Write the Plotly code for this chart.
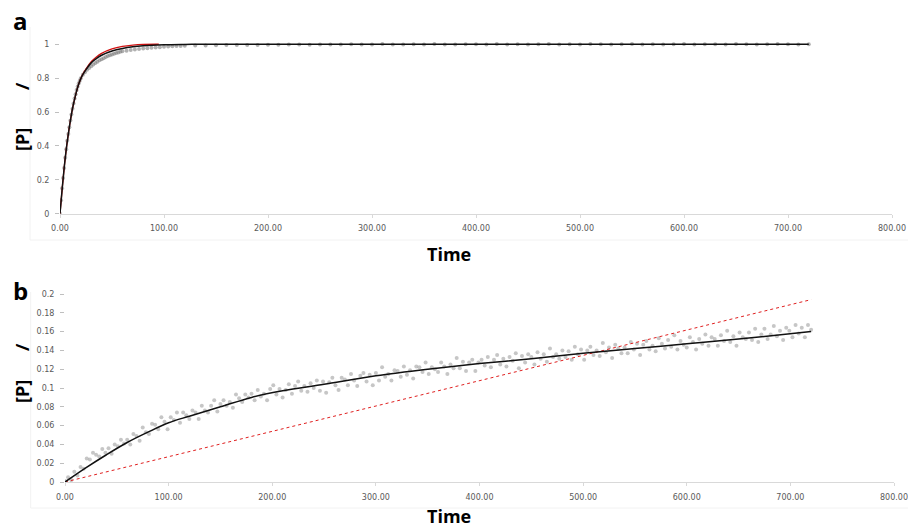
import plotly.graph_objects as go

# ---------------- Panel a data ----------------
a_obs_t = (list(range(0, 21)) + list(range(22, 61, 2)) + list(range(64, 121, 4))
           + list(range(130, 721, 10)))
a_obs_v = [0.0, 0.08, 0.15, 0.21, 0.27, 0.33, 0.38, 0.43, 0.47, 0.51, 0.55, 0.585, 0.62,
           0.65, 0.68, 0.705, 0.73, 0.75, 0.77, 0.785, 0.80,
           0.82, 0.835, 0.85, 0.86, 0.87, 0.88, 0.89, 0.897, 0.905, 0.912, 0.918, 0.924,
           0.93, 0.935, 0.94, 0.944, 0.948, 0.952, 0.955, 0.958,
           0.962, 0.966, 0.969, 0.972, 0.975, 0.977, 0.979, 0.981, 0.983, 0.985, 0.986,
           0.988, 0.989, 0.990, 0.991,
           0.992, 0.993, 0.994, 0.995, 0.995, 0.996, 0.996, 0.997, 0.997, 0.998,
           0.998, 0.997, 0.999, 0.998, 0.999, 1.000, 0.998, 0.999, 1.001, 0.999,
           0.998, 1.000, 0.999, 1.001, 0.999, 0.998, 1.000, 1.000, 0.999, 1.001,
           0.999, 1.000, 0.998, 1.000, 1.001, 0.999, 1.000, 0.999, 1.001, 1.000,
           0.999, 1.000, 1.001, 0.999, 1.000, 0.998, 1.000, 1.001, 0.999, 1.000,
           1.000, 0.999, 1.001, 1.000, 0.999, 1.000, 1.001, 1.000, 0.999, 1.000]
a_fit_t = [0, 2, 4, 6, 8, 10, 12, 15, 18, 21, 25, 30, 35, 40, 50, 60, 70, 80, 100, 120, 150, 720]
a_fit_v = [0, 0.14, 0.27, 0.38, 0.47, 0.55, 0.62, 0.70, 0.765, 0.81, 0.85, 0.89, 0.915,
           0.935, 0.96, 0.975, 0.985, 0.991, 0.997, 0.999, 1.0, 1.0]
a_red_t = [0, 2, 4, 6, 8, 10, 12, 15, 18, 21, 25, 30, 35, 40, 50, 60, 70, 80, 95]
a_red_v = [0, 0.14, 0.27, 0.38, 0.47, 0.55, 0.62, 0.70, 0.765, 0.812, 0.855, 0.897, 0.925,
           0.946, 0.972, 0.987, 0.995, 0.999, 1.0]

# ---------------- Panel b data ----------------
b_obs_t = list(range(0, 721, 3))
b_obs_milli = [
    1, 5, 2, 11, 7, 16, 14, 25, 24, 31, 29, 27, 35, 31, 36, 30, 40, 38, 45, 41,
    45, 40, 51, 49, 44, 58, 53, 51, 62, 61, 56, 69, 64, 56, 69, 66, 74, 63, 74, 71,
    67, 76, 74, 67, 81, 76, 74, 81, 87, 75, 83, 87, 81, 85, 79, 93, 89, 85, 93, 90,
    94, 87, 98, 91, 94, 87, 99, 103, 93, 99, 90, 98, 104, 94, 102, 107, 97, 102, 96, 105,
    100, 108, 97, 107, 95, 106, 111, 103, 98, 111, 109, 103, 115, 108, 102, 113, 116, 107, 114, 103,
    116, 108, 122, 112, 115, 108, 119, 118, 112, 123, 114, 119, 110, 123, 122, 117, 127, 115, 122, 120,
    117, 127, 123, 115, 125, 121, 132, 121, 128, 118, 127, 130, 118, 127, 130, 124, 133, 122, 130, 135,
    125, 131, 123, 133, 129, 137, 121, 134, 127, 136, 133, 125, 138, 131, 136, 128, 142, 133, 136, 131,
    140, 133, 139, 130, 144, 136, 141, 130, 140, 144, 135, 140, 134, 148, 138, 143, 132, 146, 142, 137,
    143, 137, 149, 141, 147, 135, 146, 150, 141, 145, 139, 153, 147, 142, 151, 144, 156, 141, 150, 146,
    143, 154, 149, 141, 152, 147, 157, 145, 154, 152, 145, 156, 150, 161, 149, 155, 145, 159, 154, 152,
    159, 151, 163, 149, 157, 163, 152, 157, 166, 155, 161, 151, 164, 161, 154, 167, 158, 164, 154, 167, 162]
b_obs_v = [m / 1000 for m in b_obs_milli]
b_fit_t = [0, 20, 40, 60, 80, 100, 120, 150, 180, 210, 250, 300, 350, 400, 450, 500, 550, 600, 650, 720]
b_fit_v = [0, 0.015, 0.029, 0.042, 0.053, 0.063, 0.070, 0.080, 0.090, 0.097, 0.104, 0.113,
           0.120, 0.126, 0.131, 0.137, 0.142, 0.147, 0.152, 0.160]
b_red_t = [0, 720]
b_red_v = [0, 0.194]

x_ticks = [0, 100, 200, 300, 400, 500, 600, 700, 800]
a_y_ticks = [0, 0.2, 0.4, 0.6, 0.8, 1]
b_y_ticks = [0, 0.02, 0.04, 0.06, 0.08, 0.1, 0.12, 0.14, 0.16, 0.18, 0.2]

W, H = 908, 529
def px(x):
    return x / W
def py(y):
    return 1 - y / H

fig = go.Figure()
a_pt_col = "rgba(125,125,125,0.6)"
b_pt_col = "rgba(160,160,160,0.6)"
fig.add_trace(go.Scatter(x=a_obs_t, y=a_obs_v, mode="markers", xaxis="x", yaxis="y",
                         marker=dict(size=4, color=a_pt_col), showlegend=False))
fig.add_trace(go.Scatter(x=a_red_t, y=a_red_v, mode="lines", xaxis="x", yaxis="y",
                         line=dict(color="#d01010", width=1.3, shape="spline"), showlegend=False))
fig.add_trace(go.Scatter(x=a_fit_t, y=a_fit_v, mode="lines", xaxis="x", yaxis="y",
                         line=dict(color="#111111", width=1.5, shape="spline"), showlegend=False))

fig.add_trace(go.Scatter(x=b_obs_t, y=b_obs_v, mode="markers", xaxis="x2", yaxis="y2",
                         marker=dict(size=4, color=b_pt_col), showlegend=False))
fig.add_trace(go.Scatter(x=b_red_t, y=b_red_v, mode="lines", xaxis="x2", yaxis="y2",
                         line=dict(color="#e02020", width=1, dash="dot"), showlegend=False))
fig.add_trace(go.Scatter(x=b_fit_t, y=b_fit_v, mode="lines", xaxis="x2", yaxis="y2",
                         line=dict(color="#111111", width=1.5, shape="spline"), showlegend=False))

tick_font = dict(family="DejaVu Sans", size=8, color="#595959")
xcommon = dict(range=[0, 800], tickvals=x_ticks, tickformat=".2f", showgrid=False,
               zeroline=False, showline=True, linecolor="#d9d9d9", linewidth=1,
               ticks="outside", ticklen=3, tickcolor="#d9d9d9", tickfont=tick_font,
               ticklabelstandoff=4, fixedrange=True, automargin=False)
ycommon = dict(showgrid=False, zeroline=False, showline=False, ticks="outside", ticklen=4,
               tickcolor="#bfbfbf", tickfont=tick_font, ticklabelstandoff=4, fixedrange=True,
               automargin=False)

fig.update_layout(
    width=W, height=H, margin=dict(l=0, r=0, t=0, b=0, pad=0, autoexpand=False),
    paper_bgcolor="white", plot_bgcolor="white",
    xaxis=dict(domain=[px(60), px(892)], anchor="y", **xcommon),
    yaxis=dict(domain=[py(213.7), py(27.3)], range=[0, 1.1], tickvals=a_y_ticks,
               anchor="x", **ycommon),
    xaxis2=dict(domain=[px(65), px(894)], anchor="y2", **xcommon),
    yaxis2=dict(domain=[py(482), py(294)], range=[0, 0.2], tickvals=b_y_ticks,
                anchor="x2", **ycommon),
)

title_font = dict(family="Open Sans", size=18, color="black")
anns = [
    dict(text="<b>a</b>", x=px(20.5), y=py(20), font=dict(family="Open Sans", size=24, color="black")),
    dict(text="<b>b</b>", x=px(20.5), y=py(290), font=dict(family="Open Sans", size=24, color="black")),
    dict(text="<b>Time</b>", x=px(448.7), y=py(254), font=title_font),
    dict(text="<b>Time</b>", x=px(448.7), y=py(516), font=title_font),
    dict(text="<b>[P]</b>", x=px(22), y=py(140), font=title_font, textangle=-90),
    dict(text="<b>/</b>", x=px(22), y=py(86), font=title_font, textangle=-90),
    dict(text="<b>[P]</b>", x=px(22), y=py(392), font=title_font, textangle=-90),
    dict(text="<b>/</b>", x=px(22), y=py(347), font=title_font, textangle=-90),
]
for a in anns:
    a.update(xref="paper", yref="paper", xanchor="center", yanchor="middle", showarrow=False)
fig.update_layout(annotations=anns)

# faint chart-area borders
shapes = [
    dict(type="line", xref="paper", yref="paper", x0=px(30), x1=px(30), y0=py(27), y1=py(240)),
    dict(type="line", xref="paper", yref="paper", x0=px(30), x1=px(908), y0=py(240), y1=py(240)),
    dict(type="line", xref="paper", yref="paper", x0=px(30.7), x1=px(30.7), y0=py(292), y1=py(508)),
    dict(type="line", xref="paper", yref="paper", x0=px(30.7), x1=px(908), y0=py(508), y1=py(508)),
]
for s in shapes:
    s["line"] = dict(color="#f2f2f2", width=1)
fig.update_layout(shapes=shapes)

fig.write_html("out.html")
